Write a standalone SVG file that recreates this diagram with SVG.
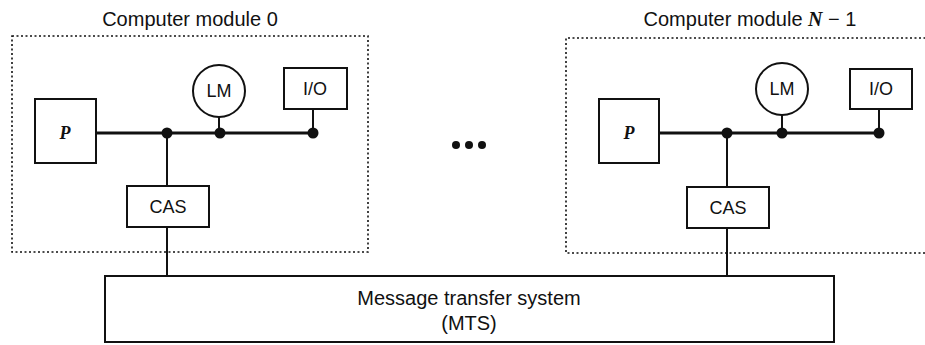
<svg xmlns="http://www.w3.org/2000/svg" width="925" height="345" viewBox="0 0 925 345">
  <style>
    .frame { fill: none; stroke: #111; stroke-width: 1.6; stroke-dasharray: 2 2.5; }
    .box { fill: #fff; stroke: #111; stroke-width: 2; }
    .bus { fill: none; stroke: #111; stroke-width: 3; }
    .wire { fill: none; stroke: #111; stroke-width: 2; }
    .dot { fill: #111; }
    .lbl { font-family: "Liberation Sans", Arial, sans-serif; font-size: 18px; fill: #111; text-anchor: middle; }
    .title { font-family: "Liberation Sans", Arial, sans-serif; font-size: 20px; fill: #111; text-anchor: middle; }
    .var { font-family: "Liberation Serif", "Times New Roman", serif; font-style: italic; font-weight: bold; }
  </style>

  <!-- Module frames and captions -->
  <g id="module-0">
    <rect class="frame" x="12" y="36" width="356" height="216"/>
    <text class="title" x="190" y="26">Computer module 0</text>
  </g>
  <g id="module-n1">
    <path class="frame" d="M930 38 H566 V253 H930"/>
    <text class="title" x="750" y="26">Computer module <tspan class="var" font-weight="normal">N</tspan> − 1</text>
  </g>

  <!-- Connectors -->
  <g id="connectors">
    <path class="bus" d="M96 133 H313"/>
    <path class="wire" d="M219 117 V133 M313 109 V133 M167 133 V186 M167 227 V276"/>
    <path class="bus" d="M659 133 H879"/>
    <path class="wire" d="M782 115 V133 M879 109 V133 M727 133 V187 M727 228 V276"/>
    <circle class="dot" cx="167" cy="133" r="5.5"/>
    <circle class="dot" cx="220" cy="133" r="5.5"/>
    <circle class="dot" cx="313" cy="133" r="5.5"/>
    <circle class="dot" cx="727" cy="133" r="5.5"/>
    <circle class="dot" cx="782" cy="133" r="5.5"/>
    <circle class="dot" cx="879" cy="133" r="5.5"/>
  </g>

  <!-- Module 0 components -->
  <g id="p0">
    <rect class="box" x="35" y="99" width="61" height="64"/>
    <text class="lbl var" x="65" y="139" font-size="21">P</text>
  </g>
  <g id="lm0">
    <circle class="box" cx="219" cy="91" r="26"/>
    <text class="lbl" x="219" y="97" font-size="19">LM</text>
  </g>
  <g id="io0">
    <rect class="box" x="284" y="68" width="63" height="41"/>
    <text class="lbl" x="315" y="95">I/O</text>
  </g>
  <g id="cas0">
    <rect class="box" x="127" y="186" width="82" height="41"/>
    <text class="lbl" x="168" y="213">CAS</text>
  </g>

  <!-- Module N-1 components -->
  <g id="p1">
    <rect class="box" x="599" y="99" width="60" height="64"/>
    <text class="lbl var" x="629" y="139" font-size="21">P</text>
  </g>
  <g id="lm1">
    <circle class="box" cx="782" cy="89" r="26"/>
    <text class="lbl" x="782" y="95" font-size="19">LM</text>
  </g>
  <g id="io1">
    <rect class="box" x="850" y="69" width="62" height="40"/>
    <text class="lbl" x="881" y="95">I/O</text>
  </g>
  <g id="cas1">
    <rect class="box" x="687" y="187" width="82" height="41"/>
    <text class="lbl" x="728" y="214">CAS</text>
  </g>

  <!-- Ellipsis between modules -->
  <g id="ellipsis">
    <circle class="dot" cx="456" cy="145" r="4"/>
    <circle class="dot" cx="469" cy="145" r="4"/>
    <circle class="dot" cx="482" cy="145" r="4"/>
  </g>

  <!-- Shared message transfer system -->
  <g id="mts">
    <rect class="box" x="105" y="276" width="729" height="66"/>
    <text class="title" x="469" y="305">Message transfer system</text>
    <text class="title" x="469" y="330">(MTS)</text>
  </g>
</svg>
